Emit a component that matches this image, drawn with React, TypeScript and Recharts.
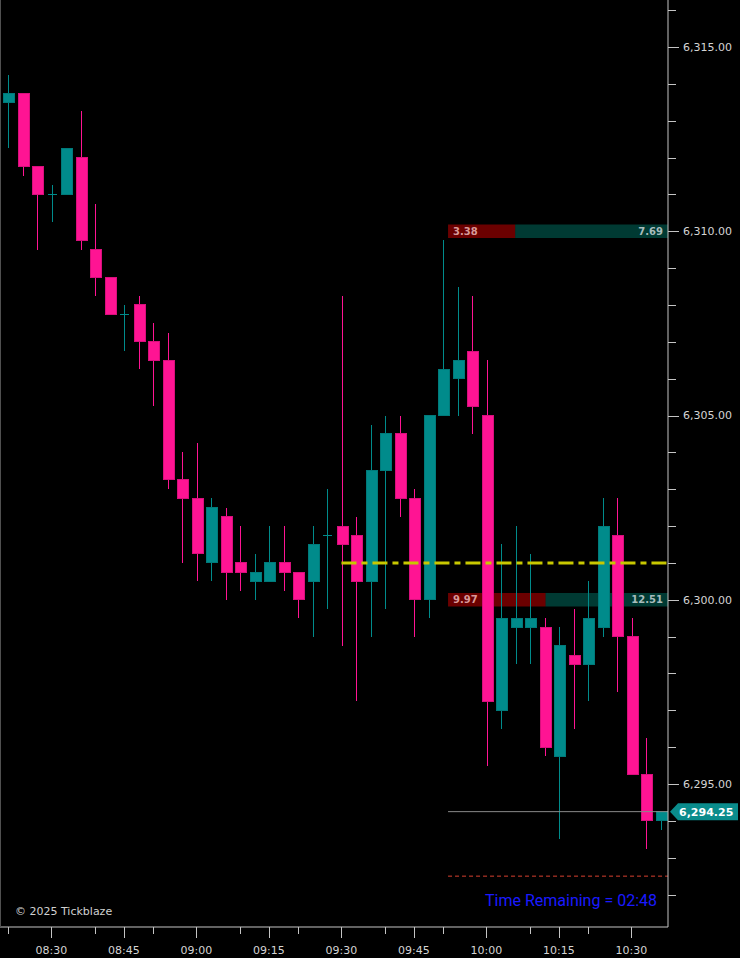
import React from 'react';
import {
  ComposedChart,
  Bar,
  XAxis,
  YAxis,
  ReferenceLine,
  ReferenceArea,
} from 'recharts';

// 3-minute bars
const times = [
  '08:21', '08:24', '08:27', '08:30', '08:33', '08:36', '08:39', '08:42', '08:45', '08:48',
  '08:51', '08:54', '08:57', '09:00', '09:03', '09:06', '09:09', '09:12', '09:15', '09:18',
  '09:21', '09:24', '09:27', '09:30', '09:33', '09:36', '09:39', '09:42', '09:45', '09:48',
  '09:51', '09:54', '09:57', '10:00', '10:03', '10:06', '10:09', '10:12', '10:15', '10:18',
  '10:21', '10:24', '10:27', '10:30', '10:33', '10:36',
];

const open = [
  6313.5, 6313.75, 6311.75, 6311, 6311, 6312, 6309.5, 6308.75, 6307.75, 6308,
  6307, 6306.5, 6303.25, 6302.75, 6301, 6302.25, 6301, 6300.5, 6300.5, 6301,
  6300.75, 6300.5, 6301.75, 6302, 6301.75, 6300.5, 6303.5, 6304.5, 6302.75, 6300,
  6305, 6306, 6306.75, 6305, 6297, 6299.25, 6299.25, 6299.25, 6295.75, 6298.5,
  6298.25, 6299.25, 6301.75, 6299, 6295.25, 6294,
];
const high = [
  6314.25, 6313.75, 6311.75, 6311.25, 6312.25, 6313.25, 6310.75, 6308.75, 6308, 6308.25,
  6307.5, 6307.25, 6304, 6304.25, 6302.75, 6302.5, 6302, 6301.25, 6302, 6302,
  6300.75, 6302, 6303, 6308.25, 6302.25, 6304.75, 6305, 6305, 6303, 6305,
  6309.75, 6308.5, 6308.25, 6306.5, 6301.5, 6302, 6301.25, 6299.5, 6299.25, 6299.75,
  6300.5, 6302.75, 6302.75, 6299.5, 6296.25, 6294.25,
];
const low = [
  6312.25, 6311.5, 6309.5, 6310.25, 6311, 6309.5, 6308.25, 6307.75, 6306.75, 6306.25,
  6305.25, 6303, 6301, 6300.5, 6300.5, 6300, 6300.25, 6300, 6300.5, 6300.25,
  6299.5, 6299, 6299.75, 6298.75, 6297.25, 6299, 6299.75, 6302.25, 6299, 6299.5,
  6305, 6305, 6304.5, 6295.5, 6296.5, 6298.25, 6298.25, 6295.75, 6293.5, 6296.5,
  6297.25, 6299, 6297.5, 6295.25, 6293.25, 6293.75,
];
const close = [
  6313.75, 6311.75, 6311, 6311, 6312.25, 6309.75, 6308.75, 6307.75, 6307.75, 6307,
  6306.5, 6303.25, 6302.75, 6301.25, 6302.5, 6300.75, 6300.75, 6300.75, 6301, 6300.75,
  6300, 6301.5, 6301.75, 6301.5, 6300.5, 6303.5, 6304.5, 6302.75, 6300, 6305,
  6306.25, 6306.5, 6305.25, 6297.25, 6299.5, 6299.5, 6299.5, 6296, 6298.75, 6298.25,
  6299.5, 6302, 6299, 6295.25, 6294, 6294.25,
];

// axis ticks
const majorTimes = ['08:30', '08:45', '09:00', '09:15', '09:30', '09:45', '10:00', '10:15', '10:30'];
const minorTimes = ['08:21', '08:39', '08:51', '09:09', '09:21', '09:39', '09:51', '10:09', '10:21'];
const priceTicks = [
  6292, 6293, 6294, 6295, 6296, 6297, 6298, 6299, 6300, 6301, 6302, 6303, 6304,
  6305, 6306, 6307, 6308, 6309, 6310, 6311, 6312, 6313, 6314, 6315, 6316,
];

// volume-at-price overlays
const profilePrices = [6310, 6300];
const sellVolume = [3.38, 9.97];
const buyVolume = [7.69, 12.51];

const pocPrice = 6301;
const pocStart = '09:30';
const stopPrice = 6292.5;

const TEAL = '#008b8b';
const PINK = '#ff1493';
const AXIS = '#c4c4c4';
const FONT = '"DejaVu Sans", Verdana, sans-serif';

const X_MIN = -0.55;
const X_MAX = 45.52;
const Y_MIN = 6291.12;
const Y_MAX = 6316.275;
const OVERLAY_START = 30.35;

const data = times.map((t, i) => ({
  idx: i,
  time: t,
  open: open[i],
  high: high[i],
  low: low[i],
  close: close[i],
}));

const Candle = (props: any) => {
  const { x, y, width, height, payload } = props;
  if (!payload) return null;
  const up = payload.close >= payload.open;
  const color = up ? TEAL : PINK;
  const top = Math.min(y, y + height);
  const h = Math.abs(height);
  const span = payload.high - payload.low || 1;
  const py = (p: number) => top + ((payload.high - p) / span) * h;
  const cx = Math.round(x + width / 2);
  const bTop = py(Math.max(payload.open, payload.close));
  const bBot = py(Math.min(payload.open, payload.close));
  const bw = 11;
  const bx = cx - 5;
  return (
    <g shapeRendering="crispEdges">
      <rect x={cx} y={top} width={1} height={h} fill={color} />
      {bBot - bTop < 1.5 ? (
        <rect x={bx + 1} y={Math.round(bTop)} width={bw - 2} height={1} fill={color} />
      ) : (
        <rect
          x={bx}
          y={bTop}
          width={bw}
          height={bBot - bTop}
          fill={color}
          stroke={up ? '#007a7a' : '#d80f7c'}
          strokeWidth={1}
        />
      )}
    </g>
  );
};

const TimeTick = (props: any) => {
  const { x, y, payload } = props;
  const label = times[payload.value];
  const major = majorTimes.includes(label);
  const px = Math.round(x) + 0.5;
  return (
    <g>
      <line x1={px} x2={px} y1={y} y2={y + (major ? 11 : 7)} stroke={AXIS} strokeWidth={1} />
      {major && (
        <text x={x} y={y + 27} textAnchor="middle" fill="#d4d4d4" fontSize={11} fontFamily={FONT}>
          {label}
        </text>
      )}
    </g>
  );
};

const PriceTick = (props: any) => {
  const { x, y, payload } = props;
  const major = payload.value % 5 === 0;
  const py = Math.round(y) + 0.5;
  return (
    <g>
      <line x1={x} x2={x + (major ? 11 : 8)} y1={py} y2={py} stroke={AXIS} strokeWidth={1} />
      {major && (
        <text x={x + 15} y={y} dy="0.36em" fill="#d4d4d4" fontSize={11} fontFamily={FONT}>
          {payload.value.toLocaleString('en-US', { minimumFractionDigits: 2, maximumFractionDigits: 2 })}
        </text>
      )}
    </g>
  );
};

const PriceTag = (props: any) => {
  const { viewBox } = props;
  if (!viewBox) return null;
  const left = viewBox.x + viewBox.width + 2;
  const cy = viewBox.y;
  const txt = close[close.length - 1].toLocaleString('en-US', { minimumFractionDigits: 2 });
  return (
    <g>
      <path
        d={`M${left},${cy} L${left + 8},${cy - 8.5} L${left + 68},${cy - 8.5} L${left + 68},${cy + 8.5} L${left + 8},${cy + 8.5} Z`}
        fill="#0a8c8c"
      />
      <text x={left + 9} y={cy} dy="0.36em" fill="#ffffff" fontSize={11} fontWeight="bold" fontFamily={FONT}>
        {txt}
      </text>
    </g>
  );
};

const App = () => {
  const width = X_MAX - OVERLAY_START;
  return (
    <div style={{ position: 'relative', width: 740, height: 958, background: '#000' }}>
      <style>{'body{margin:0;background:#000}'}</style>
      <ComposedChart
        width={740}
        height={958}
        data={data}
        margin={{ top: 0, right: 0, bottom: 0, left: 0 }}
      >
        <XAxis
          dataKey="idx"
          type="number"
          domain={[X_MIN, X_MAX]}
          allowDataOverflow
          ticks={[...majorTimes, ...minorTimes].map((t) => times.indexOf(t))}
          interval={0}
          height={31}
          tickSize={0}
          tickMargin={0}
          tickLine={false}
          axisLine={{ stroke: AXIS }}
          tick={<TimeTick />}
        />
        <YAxis
          orientation="right"
          type="number"
          domain={[Y_MIN, Y_MAX]}
          allowDataOverflow
          ticks={priceTicks}
          interval={0}
          width={72}
          tickSize={0}
          tickMargin={0}
          tickLine={false}
          axisLine={{ stroke: AXIS }}
          tick={<PriceTick />}
        />
        <Bar
          dataKey={(d: any) => [d.low, d.high]}
          barSize={11}
          shape={<Candle />}
          isAnimationActive={false}
        />
        <ReferenceLine
          segment={[
            { x: times.indexOf(pocStart), y: pocPrice },
            { x: X_MAX, y: pocPrice },
          ]}
          stroke="#c8c800"
          strokeWidth={3}
          strokeDasharray="15 5 6 5"
        />
        {profilePrices.map((p, i) => {
          const split = OVERLAY_START + (sellVolume[i] / (sellVolume[i] + buyVolume[i])) * width;
          return (
            <React.Fragment key={p}>
              <ReferenceArea
                x1={OVERLAY_START}
                x2={split}
                y1={p - 0.186}
                y2={p + 0.186}
                fill="#ff0000"
                fillOpacity={0.42}
                stroke="none"
                label={{
                  value: sellVolume[i].toFixed(2),
                  position: 'insideLeft',
                  offset: 5,
                  fill: '#d89a9a',
                  fontSize: 10,
                  fontWeight: 'bold',
                  fontFamily: FONT,
                }}
              />
              <ReferenceArea
                x1={split}
                x2={X_MAX}
                y1={p - 0.186}
                y2={p + 0.186}
                fill="#00a08c"
                fillOpacity={0.36}
                stroke="none"
                label={{
                  value: buyVolume[i].toFixed(2),
                  position: 'insideRight',
                  offset: 5,
                  fill: '#a8bcbc',
                  fontSize: 10,
                  fontWeight: 'bold',
                  fontFamily: FONT,
                }}
              />
            </React.Fragment>
          );
        })}
        <ReferenceLine
          segment={[
            { x: OVERLAY_START, y: stopPrice },
            { x: X_MAX, y: stopPrice },
          ]}
          stroke="#d84030"
          strokeWidth={1}
          strokeDasharray="4 3"
        />
        <ReferenceLine
          segment={[
            { x: OVERLAY_START, y: close[close.length - 1] },
            { x: X_MAX, y: close[close.length - 1] },
          ]}
          stroke="#8a8a8a"
          strokeWidth={1}
          label={<PriceTag />}
        />
      </ComposedChart>
      <div style={{ position: 'absolute', left: 0, top: 0, width: 1, height: 927, background: '#505050' }} />
      <div
        style={{
          position: 'absolute',
          left: 15,
          top: 905,
          fontFamily: FONT,
          fontSize: 11,
          lineHeight: '13px',
          color: '#d0d0d0',
        }}
      >
        © 2025 Tickblaze
      </div>
      <div
        style={{
          position: 'absolute',
          right: 83,
          top: 892,
          fontFamily: 'Roboto, sans-serif',
          fontSize: 16,
          lineHeight: '17px',
          color: '#1a1aff',
        }}
      >
        Time Remaining = 02:48
      </div>
    </div>
  );
};

export default App;
